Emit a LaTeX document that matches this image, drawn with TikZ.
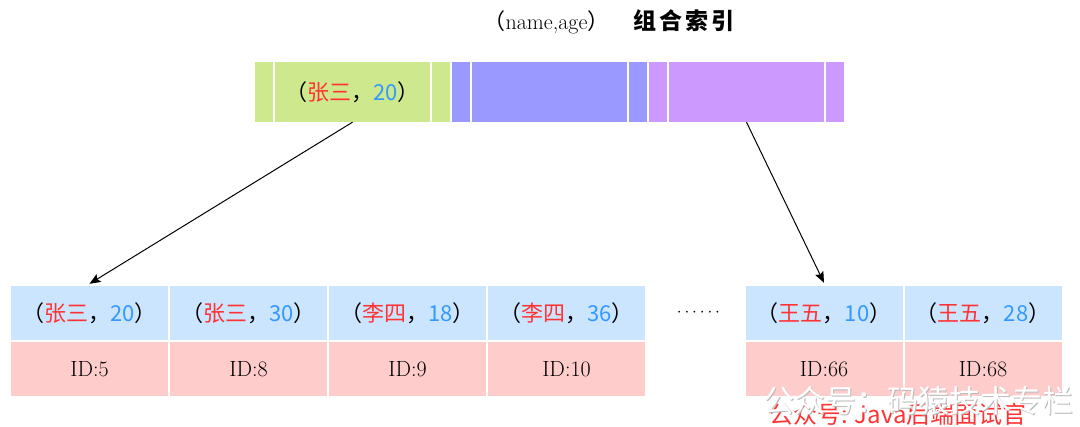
\documentclass[tikz,border=0pt]{standalone}
\usepackage{fontspec}
\usepackage{xcolor}
\usetikzlibrary{shapes.geometric, arrows, arrows.meta, positioning}
\newfontfamily\cjk{Noto Sans CJK SC}
\definecolor{keygreen}{RGB}{206,233,141}
\definecolor{keyblue}{RGB}{153,153,255}
\definecolor{keypurple}{RGB}{204,153,255}
\definecolor{cellblue}{RGB}{204,229,255}
\definecolor{cellred}{RGB}{255,204,204}
\definecolor{namered}{RGB}{255,51,51}
\definecolor{ageblue}{RGB}{51,153,255}
\newcommand{\kv}[2]{{\cjk\fontsize{22}{22}\selectfont （\textcolor{namered}{#1}，\textcolor{ageblue}{#2}）}}
\tikzstyle{seg} = [rectangle, 
minimum height=60pt, 
inner sep=0pt, 
text centered]
\tikzstyle{segsmall} = [seg, minimum width=18pt]
\tikzstyle{segbig} = [seg, minimum width=155pt]
\tikzstyle{keycell} = [rectangle, 
minimum width=157pt, 
minimum height=54pt, 
inner sep=0pt, 
text centered, 
fill=cellblue]
\tikzstyle{idcell} = [rectangle, 
minimum width=157pt, 
minimum height=54pt, 
inner sep=0pt, 
text centered, 
font=\fontsize{22}{22}\selectfont, 
fill=cellred]
\tikzstyle{arrow} = [line width=1pt,-{Stealth[length=11pt,width=9pt,inset=2pt]}]
\begin{document}
\begin{tikzpicture}[x=1pt, y=-1pt, node distance=159pt]
		\useasboundingbox (0,0) rectangle (1080,427);
		
		\node (title) at (609,22) {\fontsize{22}{22}\selectfont{\cjk （}name,age{\cjk ）}\hspace{24pt}{\cjk\fontsize{23}{23}\selectfont\bfseries 组\hspace{3pt}合\hspace{3pt}索\hspace{3pt}引}};
		
		% root page
		\node (g1) [segsmall, fill=keygreen] at (264,92) {};
		\node (g2) [segbig, fill=keygreen, node distance=88.5pt, right of=g1] {\kv{张三}{20}};
		\node (g3) [segsmall, fill=keygreen, node distance=88.5pt, right of=g2] {};
		\node (b1) [segsmall, fill=keyblue, node distance=20pt, right of=g3] {};
		\node (b2) [segbig, fill=keyblue, node distance=88.5pt, right of=b1] {};
		\node (b3) [segsmall, fill=keyblue, node distance=88.5pt, right of=b2] {};
		\node (p1) [segsmall, fill=keypurple, node distance=20pt, right of=b3] {};
		\node (p2) [segbig, fill=keypurple, node distance=88.5pt, right of=p1] {};
		\node (p3) [segsmall, fill=keypurple, node distance=88.5pt, right of=p2] {};
		
		% leaf pages
		\node (k1) [keycell] at (89.5,313) {\kv{张三}{20}};
		\node (k2) [keycell, right of=k1] {\kv{张三}{30}};
		\node (k3) [keycell, right of=k2] {\kv{李四}{18}};
		\node (k4) [keycell, right of=k3] {\kv{李四}{36}};
		\node (dots) [right of=k4, xshift=-27pt] {\fontsize{17}{17}\selectfont$\cdots\cdots$};
		\node (k5) [keycell, right of=k4, xshift=98.5pt] {\kv{王五}{10}};
		\node (k6) [keycell, right of=k5] {\kv{王五}{28}};
		
		\node (i1) [idcell, node distance=56pt, below of=k1] {ID:5};
		\node (i2) [idcell, node distance=56pt, below of=k2] {ID:8};
		\node (i3) [idcell, node distance=56pt, below of=k3] {ID:9};
		\node (i4) [idcell, node distance=56pt, below of=k4] {ID:10};
		\node (i5) [idcell, node distance=56pt, below of=k5] {ID:66};
		\node (i6) [idcell, node distance=56pt, below of=k6] {ID:68};
		
		\draw [arrow] (g2.south) -- ([yshift=2pt]k1.north);
		\draw [arrow] (p2.south) -- ([yshift=3pt]k5.north);
		
		% watermark
		\node (wm2) [text=namered] at (898,414) {\cjk\fontsize{24}{24}\selectfont 公众号: Java后端面试官};
		\node (wm1s) [text=gray!55] at (919,402) {\cjk\fontsize{31}{31}\selectfont 公众号：码猿技术专栏};
		\node (wm1) [text=white] at (918,401) {\cjk\fontsize{31}{31}\selectfont 公众号：码猿技术专栏};
		
\end{tikzpicture}
\end{document}
